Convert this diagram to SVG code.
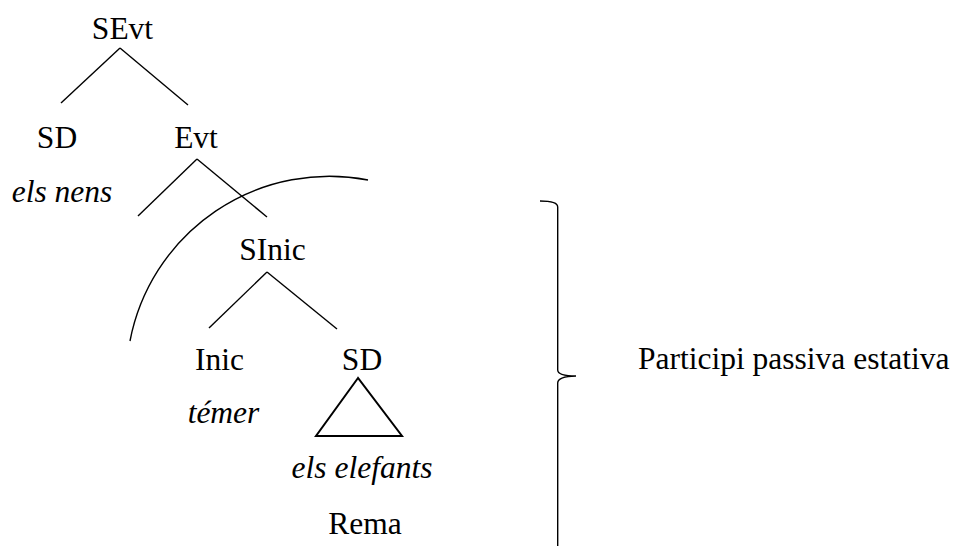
<svg xmlns="http://www.w3.org/2000/svg" width="957" height="546" viewBox="0 0 957 546" font-family="'Liberation Serif', 'DejaVu Serif', serif">
  <style>
    text { font-family: 'Liberation Serif', 'DejaVu Serif', serif; font-size: 31.5px; fill: #000; text-anchor: middle; }
    .it { font-style: italic; }
    .edge { stroke: #000; stroke-width: 1.4; fill: none; stroke-linecap: butt; }
  </style>
  <rect width="957" height="546" fill="#fff"/>

  <!-- tree branches -->
  <g id="connectors">
    <line class="edge" x1="120" y1="48" x2="61" y2="103"/>
    <line class="edge" x1="120" y1="48" x2="188" y2="105"/>
    <line class="edge" x1="197" y1="159" x2="138" y2="216"/>
    <line class="edge" x1="197" y1="159" x2="267" y2="217"/>
    <line class="edge" x1="267" y1="272" x2="209" y2="328"/>
    <line class="edge" x1="267" y1="272" x2="337" y2="329"/>
  </g>

  <g id="n-sevt"><text x="122.5" y="39">SEvt</text></g>
  <g id="n-sd1">
    <text x="57" y="148">SD</text>
    <text class="it" x="62" y="202">els nens</text>
  </g>
  <g id="n-evt"><text x="196" y="148">Evt</text></g>
  <g id="n-sinic"><text x="272.5" y="260">SInic</text></g>
  <g id="n-inic">
    <text x="219.5" y="370">Inic</text>
    <text class="it" x="223.5" y="423">témer</text>
  </g>
  <g id="n-sd2">
    <text x="362" y="370">SD</text>
    <polygon points="358,378 316,436 402,436" fill="none" stroke="#000" stroke-width="2"/>
    <text class="it" x="362" y="478">els elefants</text>
  </g>
  <g id="n-rema"><text x="365" y="534">Rema</text></g>

  <!-- arc marking the domain -->
  <path id="arc" d="M368,180 A203,203 0 0 0 130,341" fill="none" stroke="#000" stroke-width="1.4"/>

  <!-- right brace -->
  <g id="brace">
    <path d="M540,201 Q557.7,201 557.7,207 V370 Q557.7,376 576,376 Q557.7,376.5 557.7,383 V546" fill="none" stroke="#000" stroke-width="1.4"/>
    <text x="638" y="369" style="text-anchor:start">Participi passiva estativa</text>
  </g>
</svg>
